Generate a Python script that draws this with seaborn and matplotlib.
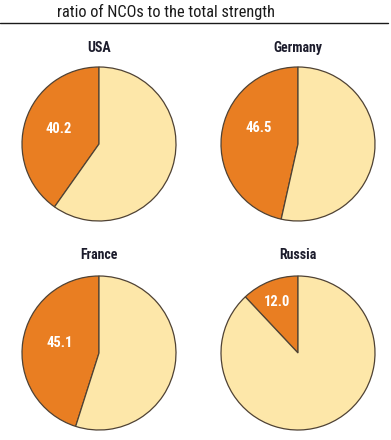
import matplotlib
matplotlib.use("Agg")
import matplotlib.pyplot as plt
import seaborn as sns

countries = ["USA", "Germany", "France", "Russia"]
nco_share = [40.2, 46.5, 45.1, 12.0]
title_text = "ratio of NCOs to the total strength"

sns.set_theme(style="white")
plt.rcParams["font.family"] = ["Roboto Condensed", "DejaVu Sans"]

W, H = 391, 440
fig = plt.figure(figsize=(W / 100, H / 100), dpi=100)
fig.patch.set_facecolor("white")

colors = ["#E97E22", "#FDE7A9"]
edge = "#4f4234"

# layout (pixels / radius units)
centers = [(99, 144), (298, 144), (99, 353), (298, 353)]
title_y = [48, 48, 255, 255]
label_pos = [(-0.53, 0.20), (-0.51, 0.21), (-0.51, 0.13), (-0.27, 0.66)]
R = 77

for i, (name, val) in enumerate(zip(countries, nco_share)):
    cx, cy = centers[i]
    ax = fig.add_axes([(cx - R - 2) / W, 1 - (cy + R + 2) / H, (2 * R + 4) / W, (2 * R + 4) / H])
    wedges, texts, autotexts = ax.pie(
        [val, 100 - val],
        colors=colors,
        startangle=90,
        counterclock=True,
        radius=1.0,
        autopct=lambda p: f"{p:.1f}" if p < 50 else "",
        wedgeprops=dict(edgecolor=edge, linewidth=0.9),
        textprops=dict(color="white", fontsize=10.5, fontweight="bold"),
    )
    autotexts[0].set_position(label_pos[i])
    ax.set_xlim(-1 - 2 / R, 1 + 2 / R)
    ax.set_ylim(-1 - 2 / R, 1 + 2 / R)
    ax.set_aspect("equal")
    ax.axis("off")
    fig.text(cx / W, 1 - title_y[i] / H, name, ha="center", va="center",
             fontsize=10, fontweight="bold", color="#1c1c2c")

fig.text(57 / W, 1 - 12 / H, title_text, ha="left", va="center",
         fontsize=11.8, color="#1a1a1a")
fig.add_artist(plt.Line2D([0, 388 / W], [1 - 23 / H, 1 - 23 / H],
                          color="#1a1a1a", linewidth=1.0))

fig.savefig("out.png", dpi=100, facecolor="white")
